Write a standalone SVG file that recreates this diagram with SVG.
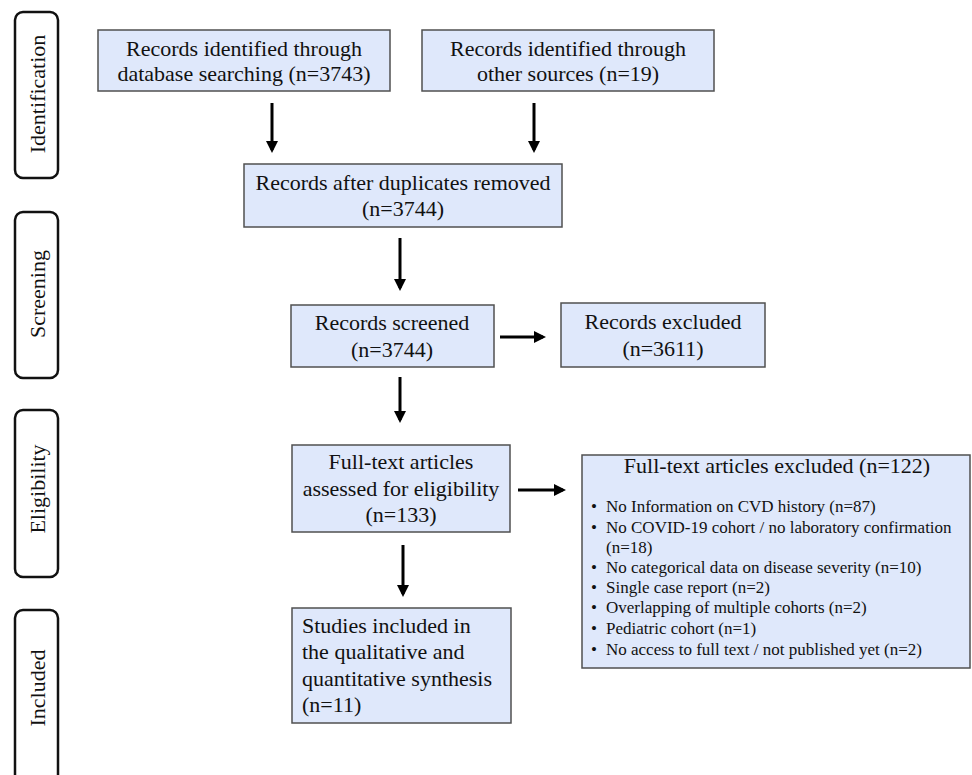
<svg xmlns="http://www.w3.org/2000/svg" width="972" height="775" viewBox="0 0 972 775">
<style>
.box{fill:#dfe8fb;stroke:#505050;stroke-width:1.5}
.phase{fill:#fff;stroke:#111;stroke-width:2.5}
.t{font-family:"Liberation Serif","Times New Roman",serif;font-size:22px;fill:#111}
.c{text-anchor:middle}
.s{font-family:"Liberation Serif","Times New Roman",serif;font-size:17px;fill:#111}
.arr{stroke:#000;stroke-width:3;fill:none;marker-end:url(#ah)}
</style>
<defs>
<marker id="ah" markerWidth="4" markerHeight="4" refX="3" refY="2" orient="auto" markerUnits="strokeWidth">
<path d="M0,0 L4,2 L0,4 Z" fill="#000"/>
</marker>
</defs>
<rect width="972" height="775" fill="#fff"/>
<g id="phase-identification">
<rect class="phase" x="15" y="12" width="43" height="166" rx="8"/>
<text class="t c" transform="translate(45,94) rotate(-90)">Identification</text>
</g>
<g id="phase-screening">
<rect class="phase" x="15" y="212" width="43" height="166" rx="8"/>
<text class="t c" transform="translate(45,294) rotate(-90)">Screening</text>
</g>
<g id="phase-eligibility">
<rect class="phase" x="15" y="410" width="43" height="167" rx="8"/>
<text class="t c" transform="translate(45,489) rotate(-90)">Eligibility</text>
</g>
<g id="phase-included">
<rect class="phase" x="15" y="610" width="43" height="180" rx="8"/>
<text class="t c" transform="translate(45,688) rotate(-90)">Included</text>
</g>
<g id="db-search">
<rect class="box" x="98" y="30" width="292" height="61"/>
<text class="t c" x="244" y="56">Records identified through</text>
<text class="t c" x="244" y="81">database searching (n=3743)</text>
</g>
<g id="other-sources">
<rect class="box" x="422" y="30" width="292" height="61"/>
<text class="t c" x="568" y="56">Records identified through</text>
<text class="t c" x="568" y="81">other sources (n=19)</text>
</g>
<g id="dup-removed">
<rect class="box" x="244" y="164" width="318" height="63"/>
<text class="t c" x="403" y="190">Records after duplicates removed</text>
<text class="t c" x="403" y="216">(n=3744)</text>
</g>
<g id="screened">
<rect class="box" x="291" y="305" width="203" height="62"/>
<text class="t c" x="392" y="330">Records screened</text>
<text class="t c" x="392" y="357">(n=3744)</text>
</g>
<g id="excluded">
<rect class="box" x="561" y="303" width="204" height="64"/>
<text class="t c" x="663" y="329">Records excluded</text>
<text class="t c" x="663" y="356">(n=3611)</text>
</g>
<g id="fulltext">
<rect class="box" x="292" y="445" width="218" height="87"/>
<text class="t c" x="401" y="469">Full-text articles</text>
<text class="t c" x="401" y="496">assessed for eligibility</text>
<text class="t c" x="401" y="522">(n=133)</text>
</g>
<g id="fulltext-excluded">
<rect class="box" x="582" y="455" width="388" height="213"/>
<text class="t c" x="777" y="473">Full-text articles excluded (n=122)</text>
<g class="s">
<text x="591" y="512">•</text><text x="606" y="512">No Information  on CVD history (n=87)</text>
<text x="591" y="533">•</text><text x="606" y="533">No COVID-19 cohort / no laboratory confirmation</text>
<text x="606" y="553">(n=18)</text>
<text x="591" y="573">•</text><text x="606" y="573">No categorical  data on disease severity  (n=10)</text>
<text x="591" y="593">•</text><text x="606" y="593">Single  case report (n=2)</text>
<text x="591" y="613">•</text><text x="606" y="613">Overlapping  of multiple  cohorts (n=2)</text>
<text x="591" y="634">•</text><text x="606" y="634">Pediatric cohort (n=1)</text>
<text x="591" y="655">•</text><text x="606" y="655">No access to full  text / not published yet (n=2)</text>
</g>
</g>
<g id="studies-included">
<rect class="box" x="292" y="608" width="219" height="115"/>
<text class="t" x="302" y="633">Studies included in</text>
<text class="t" x="302" y="659">the qualitative and</text>
<text class="t" x="302" y="686">quantitative synthesis</text>
<text class="t" x="302" y="712">(n=11)</text>
</g>
<g id="connectors">
<line class="arr" x1="272" y1="103" x2="272" y2="150"/>
<line class="arr" x1="534" y1="103" x2="534" y2="150"/>
<line class="arr" x1="400" y1="238" x2="400" y2="288"/>
<line class="arr" x1="500" y1="337" x2="543" y2="337"/>
<line class="arr" x1="400" y1="377" x2="400" y2="420"/>
<line class="arr" x1="518" y1="490" x2="563" y2="490"/>
<line class="arr" x1="403" y1="545" x2="403" y2="594"/>
</g>
</svg>
